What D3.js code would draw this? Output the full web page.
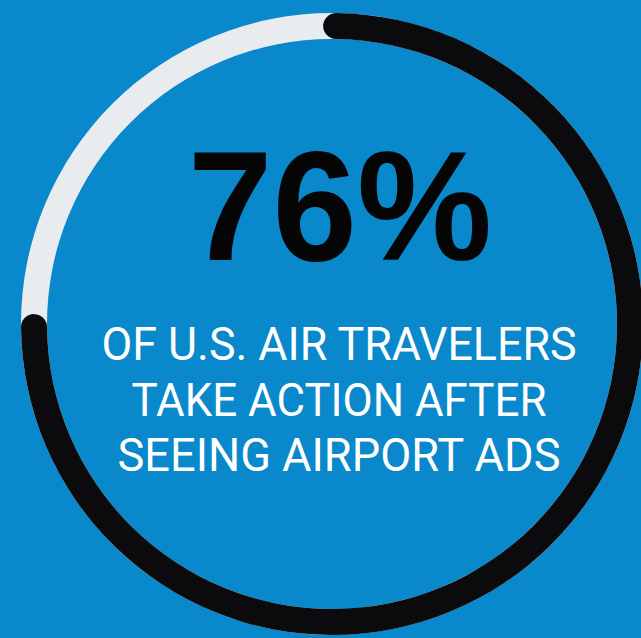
<!DOCTYPE html>
<html><head><meta charset="utf-8">
<script src="https://cdn.jsdelivr.net/npm/d3@7"></script>
<style>html,body{margin:0;padding:0;background:#0988cb;}svg{display:block}</style>
</head><body>
<svg id="c" width="641" height="638"></svg>
<script>
const percentValue = [76];
const maxValue = [100];
const headline = ["76%"];
const captionLines = ["OF U.S. AIR TRAVELERS", "TAKE ACTION AFTER", "SEEING AIRPORT ADS"];

const W = 641, H = 638;
const svg = d3.select("#c");
svg.append("rect").attr("width", W).attr("height", H).attr("fill", "#0988cb");

const cx = 332, cy = 324, rOut = 311, rIn = 285;
const rot = -1.7 * Math.PI / 180;
const angle = d3.scaleLinear().domain([0, maxValue[0]]).range([rot, rot + 2 * Math.PI]);
const g = svg.append("g").attr("transform", `translate(${cx},${cy})`);

const track = d3.arc().innerRadius(rIn).outerRadius(rOut).startAngle(0).endAngle(2 * Math.PI);
g.append("path").attr("d", track()).attr("fill", "#e9ecee");

const arc = d3.arc().innerRadius(rIn).outerRadius(rOut).cornerRadius((rOut - rIn) / 2);
g.selectAll("path.val").data(percentValue).join("path").attr("class", "val")
  .attr("d", d => arc({startAngle: angle(0), endAngle: angle(d)}))
  .attr("fill", "#0b0a0c");

svg.append("text").text(headline[0])
  .attr("x", 340).attr("y", 260).attr("text-anchor", "middle")
  .attr("font-family", "Liberation Sans, Arial, sans-serif").attr("font-weight", 700)
  .attr("font-size", 156).attr("fill", "#050505")
  .attr("textLength", 304).attr("lengthAdjust", "spacingAndGlyphs");

const widths = [475, 415, 443];
captionLines.forEach((t, i) => {
  svg.append("text").text(t)
    .attr("x", 339).attr("y", 360 + i * 55.5).attr("text-anchor", "middle")
    .attr("font-family", "Roboto, 'Open Sans', sans-serif").attr("font-weight", 400)
    .attr("font-size", 46).attr("fill", "#ffffff")
    .attr("textLength", widths[i]).attr("lengthAdjust", "spacingAndGlyphs");
});
</script>
</body></html>
